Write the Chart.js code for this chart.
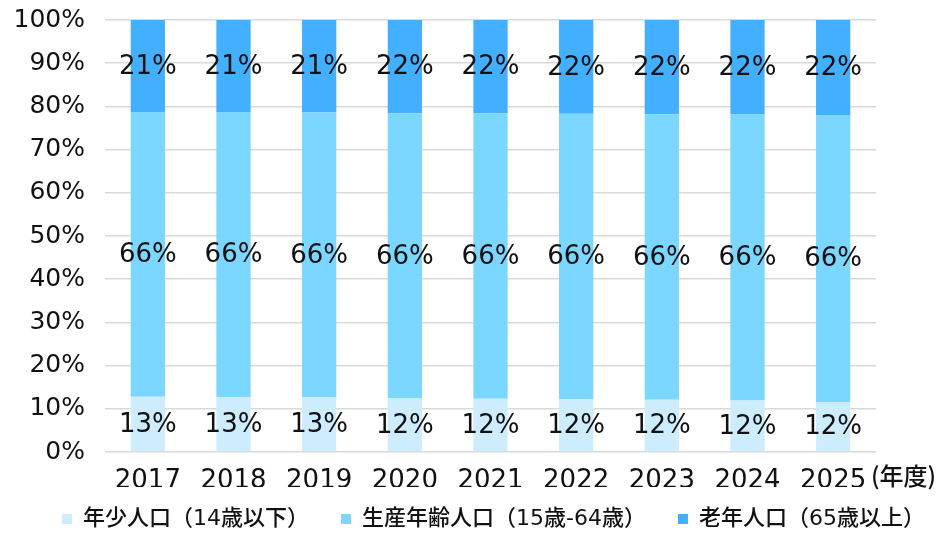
<!DOCTYPE html>
<html><head><meta charset="utf-8">
<script src="https://cdn.jsdelivr.net/npm/chart.js@4/dist/chart.umd.min.js"></script>
<style>html,body{margin:0;padding:0;background:#fff}#w{width:941px;height:534px}</style>
</head><body><div id="w"><canvas id="c"></canvas></div>
<script>
const years = ['2017','2018','2019','2020','2021','2022','2023','2024','2025'];
const youth = [12.8,12.7,12.6,12.4,12.3,12.2,12.1,11.9,11.6];
const working = [65.9,66.0,66.0,66.0,66.1,66.1,66.1,66.2,66.4];
const elderly = [21.3,21.3,21.4,21.6,21.6,21.7,21.8,21.9,22.0];
const seriesNames = ['年少人口（14歳以下）','生産年齢人口（15歳-64歳）','老年人口（65歳以上）'];
const yTicks = [0,10,20,30,40,50,60,70,80,90,100];
const unitLabel = '(年度)';
const FONT = '"DejaVu Sans", "Noto Sans CJK JP", sans-serif';

const labelPlugin = {
  id: 'labels',
  beforeLayout(chart) {
    const lg = chart.legend;
    if (lg && !lg._wrapped) {
      const f = lg.fit;
      lg.fit = function () { f.call(this); this.height = 47; };
      lg._wrapped = true;
    }
  },
  afterLayout(chart) {
    const lg = chart.legend;
    if (lg) {
      lg.left += 18; lg.right += 18;
      lg.top = 476; lg.bottom = 534;
    }
  },
  afterDatasetsDraw(chart) {
    const ctx = chart.ctx;
    ctx.save();
    ctx.font = '26px ' + FONT;
    ctx.fillStyle = '#111';
    ctx.textAlign = 'center';
    ctx.textBaseline = 'middle';
    chart.data.datasets.forEach((ds, di) => {
      const meta = chart.getDatasetMeta(di);
      meta.data.forEach((bar, i) => {
        const cy = (bar.y + bar.base) / 2;
        ctx.fillText(Math.round(ds.data[i]) + '%', bar.x, cy + 1);
      });
    });
    const xs = chart.scales.x;
    ctx.font = '500 24px "Noto Sans CJK JP", sans-serif';
    ctx.textAlign = 'left';
    ctx.fillText(unitLabel, xs.right - 5, 476);
    ctx.restore();
  }
};

new Chart(document.getElementById('c'), {
  type: 'bar',
  data: {
    labels: years,
    datasets: [
      {label: seriesNames[0], data: youth, backgroundColor: '#cdedff'},
      {label: seriesNames[1], data: working, backgroundColor: '#7bd7ff'},
      {label: seriesNames[2], data: elderly, backgroundColor: '#42b0ff'}
    ]
  },
  options: {
    responsive: true, maintainAspectRatio: false, animation: false,
    layout: {padding: {top: 0, right: 0, left: 10, bottom: 0}},
    datasets: {bar: {categoryPercentage: 1.0, barPercentage: 0.4}},
    plugins: {
      tooltip: {enabled: false},
      legend: {
        position: 'bottom',
        labels: {
          font: {family: FONT, size: 22, weight: 500}, color: '#111',
          boxWidth: 10, boxHeight: 10, padding: 32
        }
      }
    },
    scales: {
      x: {
        stacked: true,
        afterFit(scale) { scale.paddingRight = 65; scale.paddingLeft = 0; scale.height = 35; },
        grid: {display: false},
        border: {display: false},
        ticks: {font: {family: FONT, size: 26}, color: '#111', padding: 6, maxRotation: 0}
      },
      y: {
        stacked: true, min: 0, max: 100,
        afterBuildTicks(axis) { axis.ticks = yTicks.map(v => ({value: v})); },
        afterFit(scale) { scale.width = 95; scale.paddingTop = 20; scale.paddingBottom = 0; },
        grid: {color: '#d9d9d9', lineWidth: 1.5, drawTicks: false},
        border: {display: false},
        ticks: {font: {family: FONT, size: 25}, color: '#111', padding: 20,
                callback: v => v + '%'}
      }
    }
  },
  plugins: [labelPlugin]
});
</script></body></html>
